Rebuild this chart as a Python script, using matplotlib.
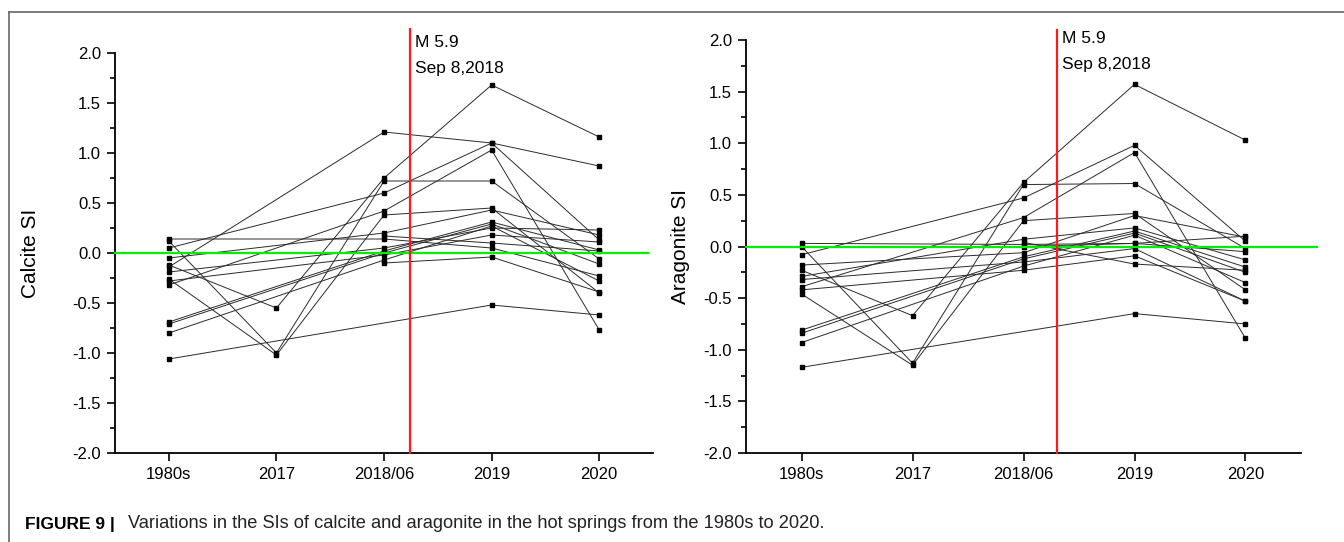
import numpy as np
import matplotlib
matplotlib.use("Agg")
import matplotlib.pyplot as plt
from matplotlib.lines import Line2D
from matplotlib.ticker import MultipleLocator, FormatStrFormatter

plt.rcParams['font.family'] = ['Liberation Sans', 'DejaVu Sans']
plt.rcParams['axes.unicode_minus'] = False

nan = np.nan

# x categories
periods = ["1980s", "2017", "2018/06", "2019", "2020"]

# calcite SI, one list per sampling period (same spring at the same index)
calcite_1980s = [-0.14, -0.12, 0.05, -0.32, 0.12, -0.26, -1.06, 0.14,
                 -0.69, -0.71, -0.80, -0.05, -0.19, -0.28, nan, nan]
calcite_2017 = [nan, -0.55, nan, nan, -1.00, -1.02, nan, nan,
                nan, nan, nan, nan, nan, nan, nan, nan]
calcite_2018 = [1.21, 0.75, 0.60, 0.42, 0.72, 0.38, nan, 0.14,
                0.02, 0.00, -0.07, 0.20, 0.05, -0.02, 0.17, -0.10]
calcite_2019 = [1.10, 1.68, 1.10, 1.03, 0.72, 0.45, -0.52, 0.05,
                0.31, 0.29, 0.27, 0.43, 0.25, 0.18, 0.10, -0.04]
calcite_2020 = [0.87, 1.16, 0.13, -0.77, -0.06, -0.40, -0.62, -0.23,
                0.03, -0.11, -0.28, 0.18, 0.23, 0.11, 0.02, -0.39]

# aragonite SI
aragonite_1980s = [-0.08, -0.23, 0.00, -0.46, -0.39, 0.03, -1.17, -0.81,
                   -0.84, -0.93, -0.18, -0.29, -0.32, -0.42, nan, nan]
aragonite_2017 = [nan, -0.67, -1.13, -1.15, nan, nan, nan, nan,
                  nan, nan, nan, nan, nan, nan, nan, nan]
aragonite_2018 = [0.47, 0.62, 0.60, 0.25, 0.28, 0.02, nan, -0.10,
                  -0.12, -0.19, -0.06, 0.07, -0.15, -0.23, 0.04, 0.00]
aragonite_2019 = [0.98, 1.57, 0.61, 0.32, 0.91, 0.03, -0.65, 0.15,
                  0.13, 0.11, 0.30, 0.18, -0.02, -0.09, -0.17, 0.03]
aragonite_2020 = [0.05, 1.03, -0.02, -0.42, -0.89, -0.05, -0.75, -0.20,
                  -0.25, -0.35, 0.09, -0.13, -0.53, -0.53, -0.23, 0.10]

quake_pos = [2.24, 2.30]   # where the red line sits between 2018/06 and 2019


def draw_panel(ax, cols, ylabel, quake_x, red_top, green_end, lab_x, text_y):
    x = np.arange(len(periods))
    data = np.array(cols, dtype=float).T
    for row in data:
        ok = ~np.isnan(row)
        ax.plot(x[ok], row[ok], '-', color='#2b2b2b', lw=0.7,
                marker='s', ms=2.8, mfc='black', mec='black', zorder=2)

    # zero line and earthquake marker
    ax.plot([-0.5, green_end], [0, 0], color='#00ee00', lw=1.6,
            clip_on=False, zorder=3)
    ax.plot([quake_x, quake_x], [-2, red_top], color='#ff1a1a', lw=1.6,
            clip_on=False, zorder=3)
    ax.text(quake_x + 0.05, text_y[0], "M 5.9", fontsize=12.5, va='center')
    ax.text(quake_x + 0.05, text_y[1], "Sep 8,2018", fontsize=12.5, va='center')

    ax.set_xlim(-0.5, 4.5)
    ax.set_ylim(-2, 2)
    ax.set_xticks(x)
    ax.set_xticklabels(periods)
    ax.yaxis.set_major_locator(MultipleLocator(0.5))
    ax.yaxis.set_minor_locator(MultipleLocator(0.25))
    ax.yaxis.set_major_formatter(FormatStrFormatter('%.1f'))
    ax.tick_params(axis='both', which='major', direction='out', length=6,
                   width=1.2, labelsize=12, pad=4)
    ax.tick_params(axis='y', which='minor', direction='out', length=3.5, width=1.2)
    ax.tick_params(axis='x', which='minor', bottom=False)
    for s in ['top', 'right']:
        ax.spines[s].set_visible(False)
    for s in ['left', 'bottom']:
        ax.spines[s].set_linewidth(1.3)
    ax.set_ylabel(ylabel, fontsize=15)
    ax.yaxis.set_label_coords(lab_x, 0.5)


fig = plt.figure(figsize=(13.44, 5.42), dpi=100)
ax1 = fig.add_axes([0.0856, 0.1642, 0.4003, 0.738])
ax2 = fig.add_axes([0.5551, 0.1642, 0.4129, 0.762])

draw_panel(ax1, [calcite_1980s, calcite_2017, calcite_2018, calcite_2019, calcite_2020],
           "Calcite SI", quake_pos[0], 2.24, 4.45, -0.139, (2.11, 1.85))
draw_panel(ax2, [aragonite_1980s, aragonite_2017, aragonite_2018, aragonite_2019, aragonite_2020],
           "Aragonite SI", quake_pos[1], 2.10, 4.64, -0.101, (2.01, 1.76))

# figure frame (top and left only)
fig.add_artist(Line2D([9 / 1344, 1.0], [1 - 12 / 542, 1 - 12 / 542],
                      transform=fig.transFigure, color='#666666', lw=1.2))
fig.add_artist(Line2D([9 / 1344, 9 / 1344], [0.0, 1 - 12 / 542],
                      transform=fig.transFigure, color='#666666', lw=1.2))

# caption: bold label then plain text
cap_y = 1 - 524 / 542
t1 = fig.text(25 / 1344, cap_y, "FIGURE 9 |", fontsize=12.5, fontweight='bold',
              va='center', ha='left')
fig.canvas.draw()
r = fig.canvas.get_renderer()
bb = t1.get_window_extent(renderer=r)
t2 = fig.text(128 / 1344, cap_y,
              "Variations in the SIs of calcite and aragonite in the hot springs from the 1980s to 2020.",
              fontsize=12.5, va='center', ha='left', color='#222222')
w = t2.get_window_extent(renderer=r).width
t2.set_fontsize(12.5 * 700 / w)

fig.savefig("out.png", dpi=100)
